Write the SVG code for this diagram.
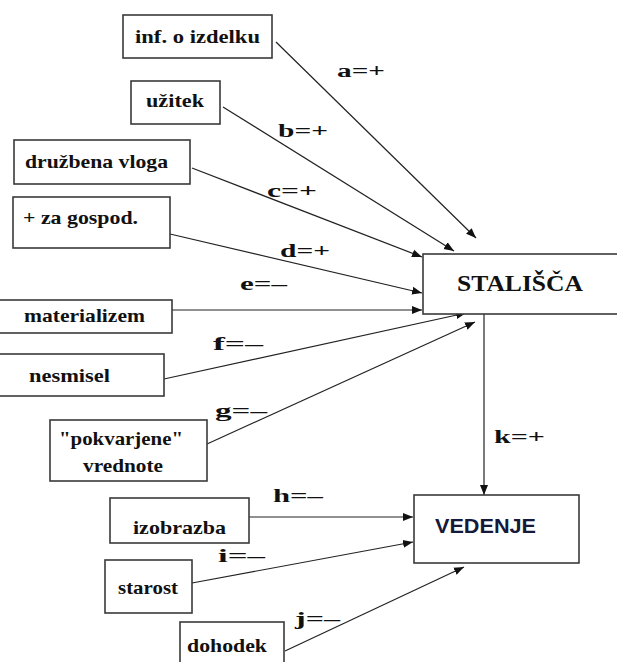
<svg xmlns="http://www.w3.org/2000/svg" width="617" height="662" viewBox="0 0 617 662">
<style>
.box{fill:#fff;stroke:#3a3a3a;stroke-width:1.6}
.t{font-family:'Liberation Serif','Times New Roman',Times,'DejaVu Serif',serif;font-weight:700;font-size:19px;fill:#111}
.lb{font-family:'Liberation Serif','Times New Roman',Times,'DejaVu Serif',serif;font-weight:700;font-size:18px;fill:#111}
.big{font-family:'Liberation Serif','Times New Roman',Times,'DejaVu Serif',serif;font-weight:700;font-size:24px;fill:#111}
.ved{font-family:'Liberation Sans',Arial,sans-serif;font-weight:700;font-size:21px;fill:#151a3a}
.c{stroke:#222;stroke-width:1.2;fill:none;marker-end:url(#ah)}
</style>
<defs>
<marker id="ah" viewBox="0 0 10 10" refX="10" refY="5" markerWidth="10" markerHeight="10" markerUnits="userSpaceOnUse" orient="auto">
<path d="M0,1 L10,5 L0,9 Z" fill="#111"/>
</marker>
</defs>
<rect width="617" height="662" fill="#fff"/>
<g id="connectors">
<line class="c" x1="276" y1="42" x2="476" y2="238"/>
<line class="c" x1="223" y1="107" x2="454" y2="251"/>
<line class="c" x1="192" y1="168" x2="422" y2="257"/>
<line class="c" x1="170" y1="234" x2="422" y2="293"/>
<line class="c" x1="172" y1="310" x2="422" y2="310"/>
<line class="c" x1="164" y1="379" x2="466" y2="313"/>
<line class="c" x1="207" y1="444" x2="475" y2="322"/>
<line class="c" x1="484" y1="309" x2="484" y2="495"/>
<line class="c" x1="249" y1="517" x2="413" y2="517"/>
<line class="c" x1="192" y1="583" x2="413" y2="542"/>
<line class="c" x1="285" y1="651" x2="464" y2="567"/>
<text class="lb" x="337" y="77" textLength="48" lengthAdjust="spacingAndGlyphs">a=+</text>
<text class="lb" x="278" y="137" textLength="50" lengthAdjust="spacingAndGlyphs">b=+</text>
<text class="lb" x="267" y="197" textLength="50" lengthAdjust="spacingAndGlyphs">c=+</text>
<text class="lb" x="280" y="257" textLength="50" lengthAdjust="spacingAndGlyphs">d=+</text>
<text class="lb" x="240" y="290" textLength="47" lengthAdjust="spacingAndGlyphs">e=–</text>
<text class="lb" x="213" y="350" textLength="50" lengthAdjust="spacingAndGlyphs">f=–</text>
<text class="lb" x="215" y="417" textLength="52" lengthAdjust="spacingAndGlyphs">g=–</text>
<text class="lb" x="273" y="502" textLength="50" lengthAdjust="spacingAndGlyphs">h=–</text>
<text class="lb" x="218" y="562" textLength="47" lengthAdjust="spacingAndGlyphs">i=–</text>
<text class="lb" x="295" y="625" textLength="45" lengthAdjust="spacingAndGlyphs">j=–</text>
<text class="lb" x="494" y="443" textLength="51" lengthAdjust="spacingAndGlyphs">k=+</text>
</g>
<g id="stalisca">
<rect class="box" x="423" y="254" width="200" height="60"/>
<text class="big" x="457" y="291" textLength="126" lengthAdjust="spacingAndGlyphs">STALIŠČA</text>
</g>
<g id="vedenje">
<rect class="box" x="414" y="495" width="165" height="68"/>
<text class="ved" x="435" y="533" textLength="101" lengthAdjust="spacingAndGlyphs">VEDENJE</text>
</g>
<g id="inf"><rect class="box" x="123" y="15" width="149" height="43"/><text class="t" x="135" y="43" textLength="125" lengthAdjust="spacingAndGlyphs">inf. o izdelku</text></g>
<g id="uzitek"><rect class="box" x="131" y="81" width="89" height="43"/><text class="t" x="146" y="107" textLength="58" lengthAdjust="spacingAndGlyphs">užitek</text></g>
<g id="druzbena"><rect class="box" x="14" y="140" width="176" height="44"/><text class="t" x="25" y="168" textLength="143" lengthAdjust="spacingAndGlyphs">družbena vloga</text></g>
<g id="gospod"><rect class="box" x="13" y="197" width="157" height="51"/><text class="t" x="23" y="224" textLength="115" lengthAdjust="spacingAndGlyphs">+ za gospod.</text></g>
<g id="materializem"><rect class="box" x="-2" y="300" width="174" height="33"/><text class="t" x="24" y="322" textLength="121" lengthAdjust="spacingAndGlyphs">materializem</text></g>
<g id="nesmisel"><rect class="box" x="-2" y="354" width="166" height="42"/><text class="t" x="29" y="382" textLength="81" lengthAdjust="spacingAndGlyphs">nesmisel</text></g>
<g id="pokvarjene"><rect class="box" x="50" y="420" width="157" height="61"/><text class="t" x="59" y="445" textLength="124" lengthAdjust="spacingAndGlyphs">"pokvarjene"</text><text class="t" x="83" y="472" textLength="80" lengthAdjust="spacingAndGlyphs">vrednote</text></g>
<g id="izobrazba"><rect class="box" x="110" y="498" width="139" height="45"/><text class="t" x="133" y="534" textLength="93" lengthAdjust="spacingAndGlyphs">izobrazba</text></g>
<g id="starost"><rect class="box" x="105" y="560" width="87" height="53"/><text class="t" x="118" y="594" textLength="60" lengthAdjust="spacingAndGlyphs">starost</text></g>
<g id="dohodek"><rect class="box" x="180" y="622" width="104" height="50"/><text class="t" x="187" y="652" textLength="80" lengthAdjust="spacingAndGlyphs">dohodek</text></g>
</svg>
